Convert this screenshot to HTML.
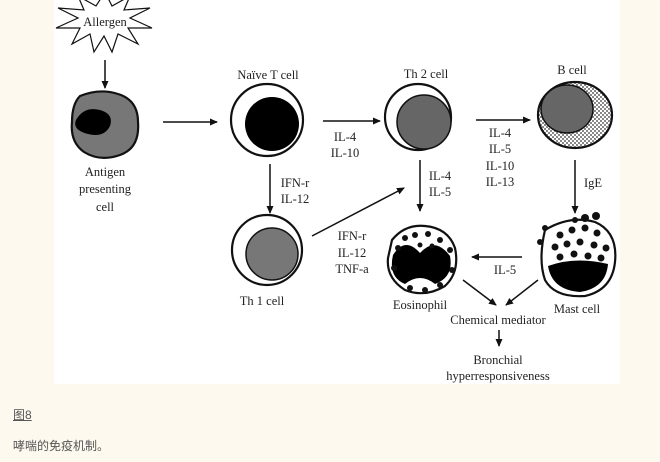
<!DOCTYPE html>
<html><head><meta charset="utf-8"><style>
body{margin:0;width:660px;height:462px;background:#fdf9ef;overflow:hidden;position:relative;font-family:"Liberation Sans","Noto Sans CJK SC",sans-serif}
svg{position:absolute;left:0;top:0}
.c{position:absolute;left:13px;color:#555;font-size:12px}
</style></head><body>
<svg width="660" height="462" viewBox="0 0 660 462">
<defs>
<marker id="a" markerWidth="8" markerHeight="8" refX="7" refY="4" orient="auto" markerUnits="userSpaceOnUse"><path d="M0,0.5 L8,4 L0,7.5z" fill="#111"/></marker>
<pattern id="ck" width="4" height="4" patternUnits="userSpaceOnUse"><rect width="4" height="4" fill="#fff"/><rect width="2" height="2" fill="#888"/><rect x="2" y="2" width="2" height="2" fill="#888"/></pattern>
</defs>
<rect x="54" y="0" width="566" height="384" fill="#fff"/>
<g font-family="Liberation Serif,serif" font-size="12.5" fill="#222" text-anchor="middle">
<polygon points="105,-8 112,6 130,-4 124,10 150,8 130,18 152,28 128,28 138,44 118,34 112,52 104,36 94,52 90,34 72,44 80,28 56,28 78,18 58,8 84,10 78,-4 96,6" fill="#fff" stroke="#111" stroke-width="1.2"/>
<text x="105" y="26">Allergen</text>
<line x1="105" y1="60" x2="105" y2="88" stroke="#111" stroke-width="1.5" marker-end="url(#a)"/>
<path d="M80,96 Q100,88 118,94 Q138,100 138,122 Q140,148 120,155 Q100,162 84,152 Q70,142 72,122 Q72,104 80,96z" fill="#777" stroke="#111" stroke-width="2.2"/>
<path d="M76,120 Q84,106 100,110 Q114,114 110,126 Q104,138 88,134 Q72,130 76,120z" fill="#000"/>
<text x="105" y="176">Antigen</text><text x="105" y="193">presenting</text><text x="105" y="211">cell</text>
<line x1="163" y1="122" x2="217" y2="122" stroke="#111" stroke-width="1.5" marker-end="url(#a)"/>
<text x="268" y="79">Naïve T cell</text>
<circle cx="267" cy="120" r="36" fill="#fff" stroke="#111" stroke-width="2.2"/>
<circle cx="272" cy="124" r="27" fill="#000"/>
<line x1="323" y1="121" x2="380" y2="121" stroke="#111" stroke-width="1.5" marker-end="url(#a)"/>
<text x="345" y="141">IL-4</text><text x="345" y="157">IL-10</text>
<line x1="270" y1="164" x2="270" y2="213" stroke="#111" stroke-width="1.5" marker-end="url(#a)"/>
<text x="295" y="187">IFN-r</text><text x="295" y="203">IL-12</text>
<text x="426" y="78">Th 2 cell</text>
<circle cx="418" cy="117" r="33" fill="#fff" stroke="#111" stroke-width="2.2"/>
<circle cx="424" cy="122" r="27" fill="#666" stroke="#111" stroke-width="1.5"/>
<line x1="476" y1="120" x2="530" y2="120" stroke="#111" stroke-width="1.5" marker-end="url(#a)"/>
<text x="500" y="137">IL-4</text><text x="500" y="153">IL-5</text><text x="500" y="170">IL-10</text><text x="500" y="186">IL-13</text>
<text x="572" y="74">B cell</text>
<ellipse cx="575" cy="115" rx="37" ry="33" fill="url(#ck)" stroke="#111" stroke-width="2.2"/>
<ellipse cx="567" cy="109" rx="26" ry="24" fill="#666" stroke="#111" stroke-width="1.5"/>
<line x1="420" y1="160" x2="420" y2="211" stroke="#111" stroke-width="1.5" marker-end="url(#a)"/>
<text x="440" y="180">IL-4</text><text x="440" y="196">IL-5</text>
<line x1="575" y1="160" x2="575" y2="213" stroke="#111" stroke-width="1.5" marker-end="url(#a)"/>
<text x="593" y="187">IgE</text>
<circle cx="267" cy="250" r="35" fill="#fff" stroke="#111" stroke-width="2.2"/>
<circle cx="272" cy="254" r="26" fill="#777" stroke="#111" stroke-width="1.5"/>
<text x="262" y="305">Th 1 cell</text>
<line x1="312" y1="236" x2="404" y2="188" stroke="#111" stroke-width="1.5" marker-end="url(#a)"/>
<text x="352" y="240">IFN-r</text><text x="352" y="257">IL-12</text><text x="352" y="273">TNF-a</text>
<path d="M392,240 Q405,224 425,226 Q448,228 455,248 Q460,272 445,286 Q425,298 405,290 Q386,278 388,258z" fill="#fff" stroke="#111" stroke-width="2.2"/>
<path d="M393,255 Q405,236 420,253 Q435,236 450,256 Q454,277 435,284 Q420,272 405,284 Q388,277 393,255z" fill="#000"/>
<g fill="#111"><circle cx="405" cy="238" r="3"/><circle cx="415" cy="235" r="3"/><circle cx="428" cy="234" r="3"/><circle cx="440" cy="240" r="3"/><circle cx="398" cy="248" r="3"/><circle cx="450" cy="250" r="3"/><circle cx="420" cy="245" r="2.5"/><circle cx="432" cy="246" r="2.5"/><circle cx="410" cy="288" r="3"/><circle cx="425" cy="290" r="3"/><circle cx="440" cy="285" r="3"/><circle cx="394" cy="268" r="3"/><circle cx="452" cy="270" r="3"/></g>
<text x="420" y="309">Eosinophil</text>
<path d="M545,230 Q570,215 595,222 Q618,232 615,262 Q612,290 585,296 Q555,298 545,280 Q538,260 545,230z" fill="#fff" stroke="#111" stroke-width="2.2"/>
<path d="M548,266 Q575,256 608,264 Q606,288 580,292 Q552,290 548,266z" fill="#000"/>
<g fill="#111"><circle cx="560" cy="235" r="3.5"/><circle cx="572" cy="230" r="3.5"/><circle cx="585" cy="228" r="3.5"/><circle cx="597" cy="233" r="3.5"/><circle cx="555" cy="247" r="3.5"/><circle cx="567" cy="244" r="3.5"/><circle cx="580" cy="242" r="3.5"/><circle cx="594" cy="245" r="3.5"/><circle cx="606" cy="248" r="3.5"/><circle cx="560" cy="257" r="3.5"/><circle cx="574" cy="254" r="3.5"/><circle cx="588" cy="256" r="3.5"/><circle cx="601" cy="258" r="3.5"/><circle cx="585" cy="218" r="4"/><circle cx="596" cy="216" r="4"/><circle cx="575" cy="220" r="3"/><circle cx="545" cy="228" r="3"/><circle cx="540" cy="242" r="3"/></g>
<text x="577" y="313">Mast cell</text>
<line x1="522" y1="257" x2="472" y2="257" stroke="#111" stroke-width="1.5" marker-end="url(#a)"/>
<text x="505" y="274">IL-5</text>
<line x1="463" y1="280" x2="496" y2="305" stroke="#111" stroke-width="1.5" marker-end="url(#a)"/>
<line x1="538" y1="280" x2="506" y2="305" stroke="#111" stroke-width="1.5" marker-end="url(#a)"/>
<text x="498" y="324">Chemical mediator</text>
<line x1="499" y1="330" x2="499" y2="346" stroke="#111" stroke-width="1.5" marker-end="url(#a)"/>
<text x="498" y="364">Bronchial</text><text x="498" y="380">hyperresponsiveness</text>
</g>
</svg>
<div class="c" style="top:406px;text-decoration:underline">图8</div>
<div class="c" style="top:437px">哮喘的免疫机制。</div>
</body></html>
